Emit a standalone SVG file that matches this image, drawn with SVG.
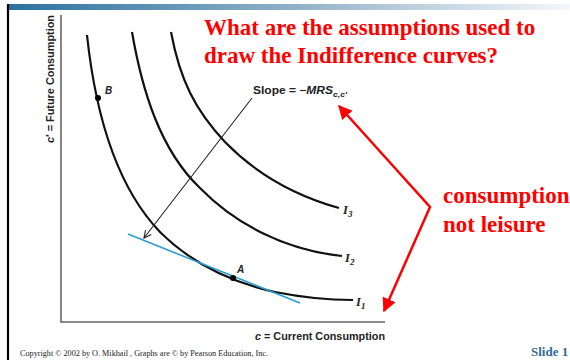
<svg xmlns="http://www.w3.org/2000/svg" width="570" height="360" viewBox="0 0 570 360">
<defs>
<linearGradient id="bar" x1="0" y1="0" x2="1" y2="0">
<stop offset="0" stop-color="#2c72a0"/>
<stop offset="0.5" stop-color="#8fb0c8"/>
<stop offset="1" stop-color="#f4f7fa"/>
</linearGradient>
<marker id="vhead" viewBox="0 0 10 10" refX="9" refY="5" markerWidth="9" markerHeight="9" orient="auto" markerUnits="userSpaceOnUse">
<path d="M1,1 L9,5 L1,9" fill="none" stroke="#222" stroke-width="1.2"/>
</marker>
<marker id="redhead" viewBox="0 0 10 10" refX="9" refY="5" markerWidth="14" markerHeight="14" orient="auto" markerUnits="userSpaceOnUse">
<path d="M0,0 L10,5 L0,10 z" fill="#ff0000"/>
</marker>
<marker id="redstart" viewBox="0 0 10 10" refX="1" refY="5" markerWidth="14" markerHeight="14" orient="auto" markerUnits="userSpaceOnUse">
<path d="M10,0 L0,5 L10,10 z" fill="#ff0000"/>
</marker>
</defs>
<style>
.curve{fill:none;stroke:#111;stroke-width:2.2}
.axis{fill:none;stroke:#666;stroke-width:1.6}
.title{font-family:"Liberation Serif",serif;font-weight:bold;font-size:23px;fill:#ff0000}
.ax{font-family:"Liberation Sans",sans-serif;font-weight:bold;font-size:11px;fill:#222}
.lab{font-family:"Liberation Serif",serif;font-style:italic;font-weight:bold;font-size:12.5px;fill:#222}
.pt{font-family:"Liberation Sans",sans-serif;font-style:italic;font-weight:bold;font-size:10px;fill:#222}
</style>
<rect x="0" y="0" width="570" height="360" fill="#ffffff"/>
<rect x="9" y="4" width="561" height="6" fill="url(#bar)"/>
<line x1="8" y1="4" x2="8" y2="360" stroke="#000" stroke-width="2.2"/>

<g id="axes">
<path class="axis" d="M61,15 L61,322 L385,322"/>
<text class="ax" transform="translate(54,143) rotate(-90)" textLength="128" lengthAdjust="spacingAndGlyphs"><tspan font-style="italic">c</tspan>′ = Future Consumption</text>
<text class="ax" x="255" y="340" textLength="130" lengthAdjust="spacingAndGlyphs"><tspan font-style="italic">c</tspan> = Current Consumption</text>
</g>

<g id="curve-I1">
<path class="curve" d="M87,35 C95,110 115,185 160,232 C190,262 230,282 275,292 C305,298 330,300 353,300"/>
<text class="lab" x="356" y="306">I<tspan font-size="9" dy="3">1</tspan></text>
</g>
<g id="curve-I2">
<path class="curve" d="M132,32 C142,90 160,150 200,188 C235,224 285,250 342,256"/>
<text class="lab" x="345" y="262">I<tspan font-size="9" dy="3">2</tspan></text>
</g>
<g id="curve-I3">
<path class="curve" d="M171,32 C180,80 195,110 225,142 C260,178 300,197 339,208"/>
<text class="lab" x="343" y="214">I<tspan font-size="9" dy="3">3</tspan></text>
</g>

<g id="tangent">
<line x1="128" y1="234" x2="300" y2="303" stroke="#2a9cd0" stroke-width="1.6"/>
</g>

<g id="point-A">
<circle cx="233" cy="278" r="3" fill="#000"/>
<text class="pt" x="237" y="273">A</text>
</g>
<g id="point-B">
<circle cx="98" cy="98" r="3" fill="#000"/>
<text class="pt" x="105" y="94">B</text>
</g>

<g id="slope-label">
<text x="253" y="94" font-family="Liberation Sans, sans-serif" font-weight="bold" font-size="10.5" fill="#222" textLength="94" lengthAdjust="spacingAndGlyphs">Slope = −<tspan font-style="italic">MRS</tspan><tspan font-style="italic" font-size="7.5" dy="2.5">c,c′</tspan></text>
</g>

<g id="connectors">
<line x1="252" y1="98" x2="144" y2="238" stroke="#222" stroke-width="1.1" marker-end="url(#vhead)"/>
<polyline points="339,106 430,207 384,311" fill="none" stroke="#ff0000" stroke-width="2.5" marker-start="url(#redstart)" marker-end="url(#redhead)"/>
</g>

<g id="title">
<text class="title" x="204" y="35">What are the assumptions used to</text>
<text class="title" x="204" y="63">draw the Indifference curves?</text>
</g>
<g id="note">
<text class="title" x="443" y="203">consumption</text>
<text class="title" x="443" y="232">not leisure</text>
</g>

<text x="20" y="356" font-family="Liberation Serif, serif" font-size="8" fill="#222" textLength="248" lengthAdjust="spacingAndGlyphs">Copyright © 2002 by O. Mikhail , Graphs are © by Pearson Education, Inc.</text>
<text x="531" y="356" font-family="Liberation Serif, serif" font-weight="bold" font-size="13" fill="#2e6c95">Slide 1</text>
</svg>
